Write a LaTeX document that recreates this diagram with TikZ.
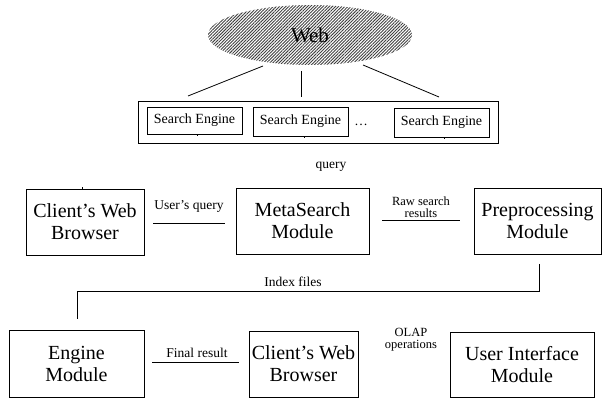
\documentclass[tikz,border=0pt]{standalone}
\usepackage{fontspec}
\setmainfont{Liberation Serif}
\usetikzlibrary{positioning, shapes, patterns.meta}

\begin{document}
\begin{tikzpicture}[x=1pt, y=-1pt, inner sep=0pt, line width=0.8pt,
      module/.style={rectangle, draw, align=center, minimum height=66pt,
        font=\fontsize{20}{22}\selectfont},
      engine/.style={rectangle, draw, minimum width=95pt,
        font=\fontsize{14}{15}\selectfont},
      lbl/.style={align=center, font=\fontsize{13.5}{15}\selectfont},
      small/.style={align=center, font=\fontsize{12.5}{12}\selectfont}]
      \useasboundingbox (0,0) rectangle (603,398);
      % web and the search engines
      \node[ellipse, minimum width=204pt, minimum height=60pt,
        pattern={Lines[angle=45, distance=2.2pt, line width=0.9pt]},
        pattern color=black!75, font=\fontsize{21}{22}\selectfont] (web) at (310,35) {Web};
      \node[draw, minimum width=360pt, minimum height=42pt] (engines) at (318,122) {};
      \node[engine, minimum height=27pt] (se_1) at (194.5,120.5) {Search Engine};
      \node[engine, minimum height=29pt] (se_2) at (300.5,121.5) {Search Engine};
      \node[lbl] (dots) at (361,125) {\dots};
      \node[engine, minimum height=29pt] (se_3) at (441.5,122.5) {Search Engine};
      \coordinate (w_1) at (263,66);  \coordinate (e_1) at (188,96);
      \coordinate (w_2) at (301,71);  \coordinate (e_2) at (301,97);
      \coordinate (w_3) at (363,65);  \coordinate (e_3) at (439,97);
      \path (w_1) edge (e_1) (w_2) edge (e_2) (w_3) edge (e_3);
      \draw[line width=0.6pt] ([xshift=2.5pt]se_1.south) -- ++(0,2);
      \draw[line width=0.6pt] ([xshift=3.5pt]se_2.south) -- ++(0,2);
      \draw[line width=0.6pt] ([xshift=2.5pt]se_3.south) -- ++(0,2);
      \node[lbl] (query) at (331,167) {query};
      % client, metasearch, preprocessing
      \node[module, minimum width=118pt] (client_1) at (85,222) {Client's Web\\Browser};
      \draw[line width=0.6pt] ([xshift=-3pt]client_1.north) -- ++(0,-2);
      \node[module, minimum width=133pt] (meta) at (302.5,221) {MetaSearch\\Module};
      \node[module, minimum width=127pt] (prep) at (537.5,221) {Preprocessing\\Module};
      \node[lbl] (uq) at (189,206) {User's query};
      \coordinate (uq_a) at (153,223);  \coordinate (uq_b) at (225,223);
      \path (uq_a) edge (uq_b);
      \node[small] (raw) at (421,207) {Raw search\\results};
      \coordinate (raw_a) at (382,220);  \coordinate (raw_b) at (460,220);
      \path (raw_a) edge (raw_b);
      % index files
      \coordinate (idx_a) at (539,264);  \coordinate (idx_b) at (77,319);
      \draw (idx_a) -- ++(0,27) -| (idx_b);
      \node[lbl] (idx) at (293,282) {Index files};
      % engine, client, user interface
      \node[module, minimum width=135pt, minimum height=67pt] (eng) at (76.5,363.5) {Engine\\Module};
      \node[module, minimum width=109pt] (client_2) at (303.5,364) {Client's Web\\Browser};
      \node[module, minimum width=144pt, minimum height=65pt] (ui) at (522,364.5) {User Interface\\Module};
      \node[lbl] (fin) at (197,353) {Final result};
      \coordinate (fin_a) at (152,362);  \coordinate (fin_b) at (239,362);
      \path (fin_a) edge (fin_b);
      \node[small] (olap) at (411,340) {OLAP\\operations};
\end{tikzpicture}
\end{document}
